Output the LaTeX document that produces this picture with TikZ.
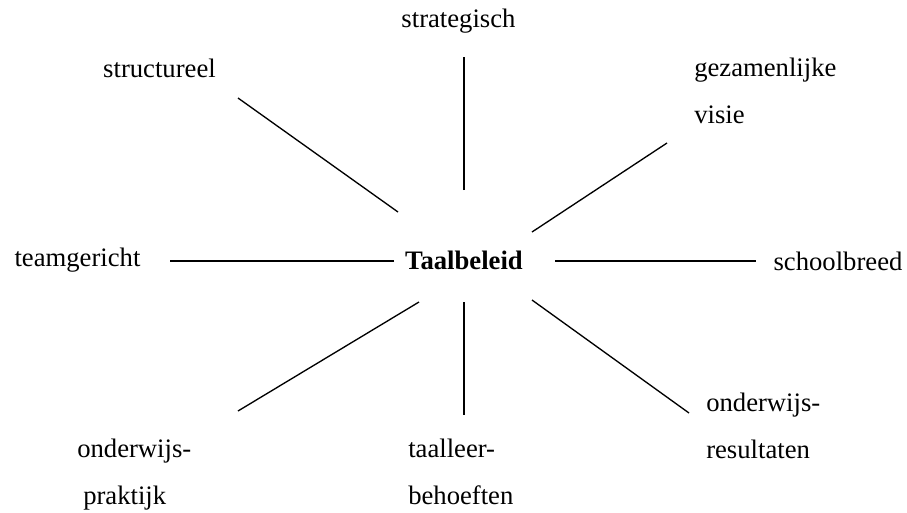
\documentclass[tikz,border=0pt]{standalone}
\usepackage{fontspec}
\setmainfont{Liberation Serif}
\begin{document}
\begin{tikzpicture}[x=0.75pt,y=0.75pt,yscale=-1,xscale=1,
  lbl/.style={inner sep=0.75pt,font=\rmfamily\fontsize{20}{35}\selectfont},
  spoke/.style={line width=1pt}]
\useasboundingbox (0,0) rectangle (907,512);

% Text Node
\node [lbl,font=\rmfamily\fontsize{20}{35}\selectfont\bfseries] (beleid) at (464,260) {Taalbeleid};
% Text Node
\node [lbl] (strat) at (458.5,21) {strategisch};
% Text Node
\node [lbl] (struct) at (159.5,68) {structureel};
% Text Node
\node [lbl,anchor=north west,align=left] (visie) at (693,57) {gezamenlijke\\visie};
% Text Node
\node [lbl] (team) at (77.5,260) {teamgericht};
% Text Node
\node [lbl] (school) at (838,261) {schoolbreed};
% Text Node
\node [lbl,anchor=north west,align=left] (praktijk) at (76,438) {onderwijs-\\\hspace*{4.5pt}praktijk};
% Text Node
\node [lbl,anchor=north west,align=left] (behoeften) at (407,438) {taalleer-\\behoeften};
% Text Node
\node [lbl,anchor=north west,align=left] (result) at (705,392) {onderwijs-\\resultaten};

% spoke ends
\coordinate (nN) at (464,190);  \coordinate (fN) at (464,57);
\coordinate (nNW) at (398,212); \coordinate (fNW) at (238,98);
\coordinate (nNE) at (532,232); \coordinate (fNE) at (667,143);
\coordinate (nW) at (394,261);  \coordinate (fW) at (170,261);
\coordinate (nE) at (555,261);  \coordinate (fE) at (756,261);
\coordinate (nSW) at (419,302); \coordinate (fSW) at (238,411);
\coordinate (nS) at (464,302);  \coordinate (fS) at (464,415);
\coordinate (nSE) at (532,300); \coordinate (fSE) at (689,413);

%Straight Lines
\draw [spoke] (nN) -- (fN);
\draw [spoke] (nNW) -- (fNW);
\draw [spoke] (nNE) -- (fNE);
\draw [spoke] (nW) -- (fW);
\draw [spoke] (nE) -- (fE);
\draw [spoke] (nSW) -- (fSW);
\draw [spoke] (nS) -- (fS);
\draw [spoke] (nSE) -- (fSE);
\end{tikzpicture}
\end{document}
